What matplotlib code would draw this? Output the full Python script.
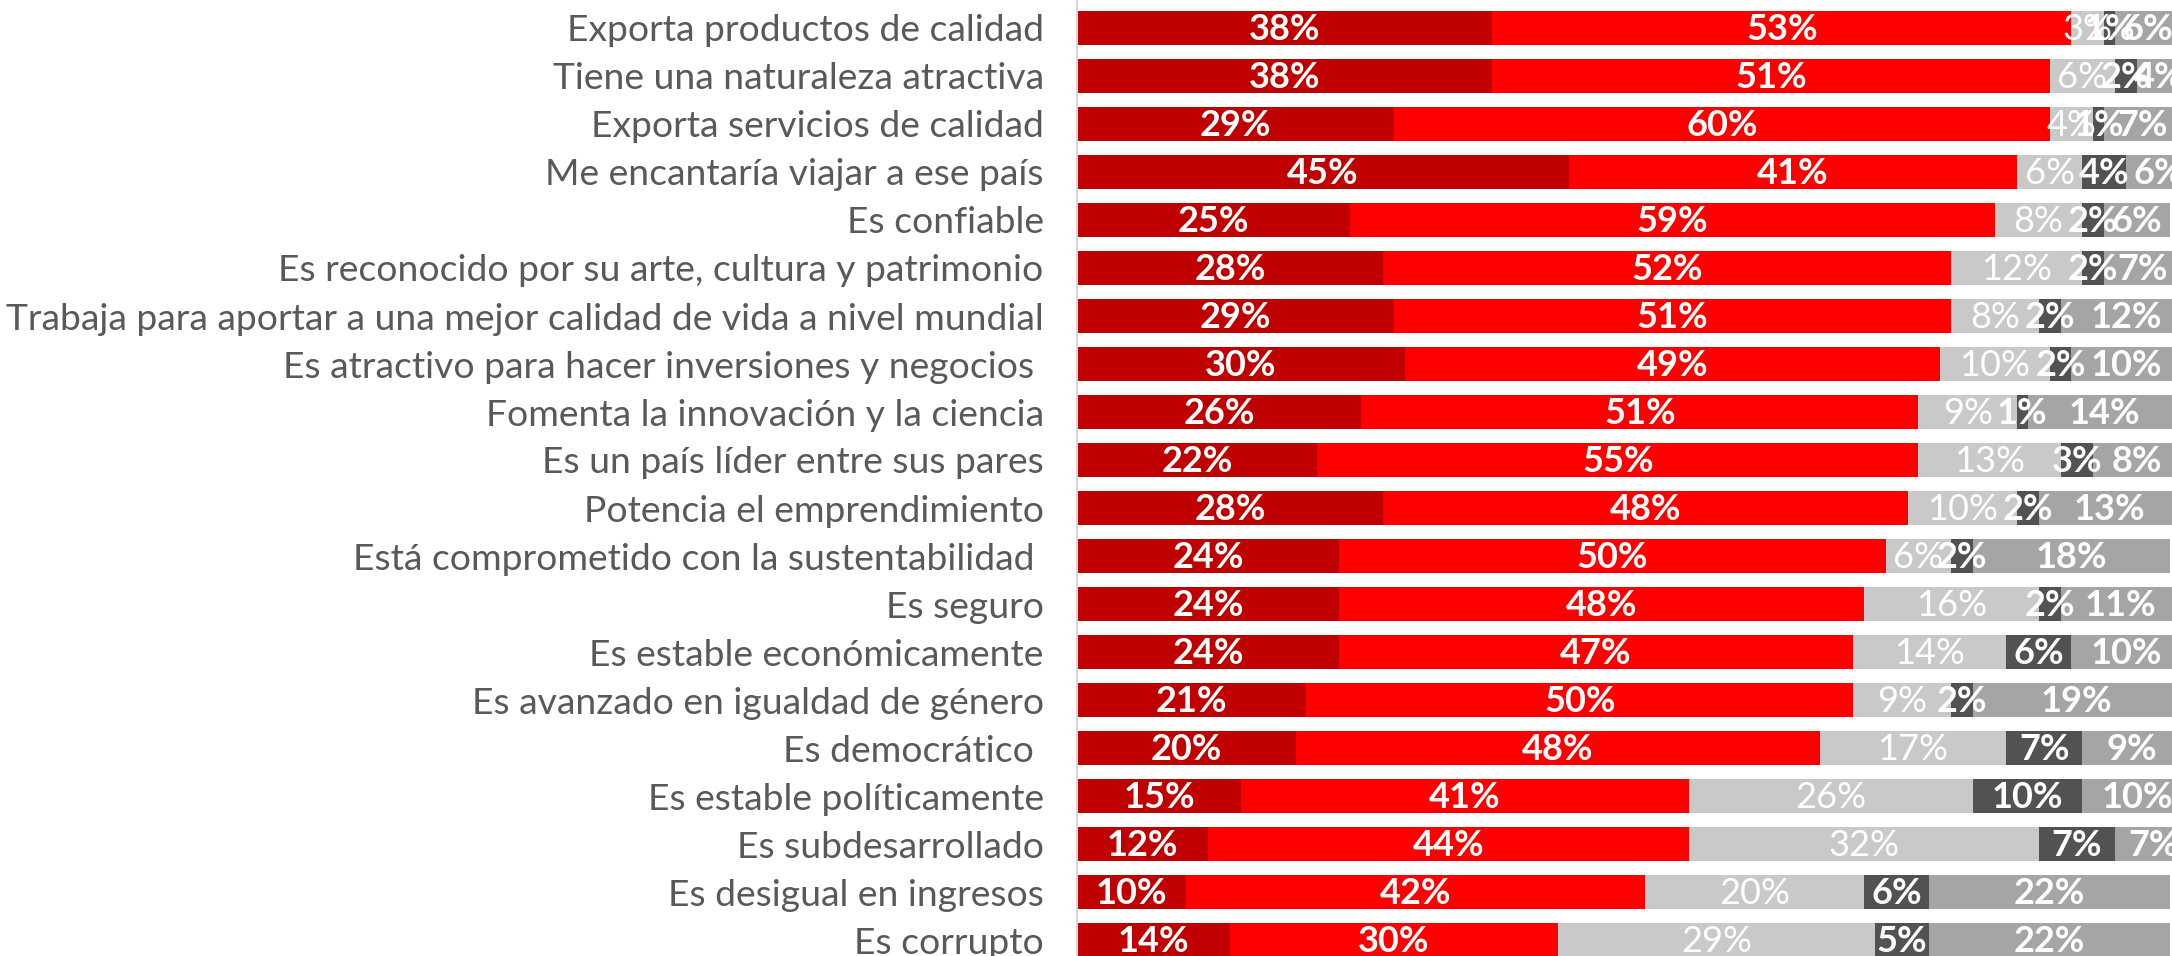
import numpy as np
import matplotlib.pyplot as plt

categorias = [
    "Exporta productos de calidad",
    "Tiene una naturaleza atractiva",
    "Exporta servicios de calidad",
    "Me encantaría viajar a ese país",
    "Es confiable",
    "Es reconocido por su arte, cultura y patrimonio",
    "Trabaja para aportar a una mejor calidad de vida a nivel mundial",
    "Es atractivo para hacer inversiones y negocios ",
    "Fomenta la innovación y la ciencia",
    "Es un país líder entre sus pares",
    "Potencia el emprendimiento",
    "Está comprometido con la sustentabilidad ",
    "Es seguro",
    "Es estable económicamente",
    "Es avanzado en igualdad de género",
    "Es democrático ",
    "Es estable políticamente",
    "Es subdesarrollado",
    "Es desigual en ingresos",
    "Es corrupto",
]

muy_de_acuerdo = [38, 38, 29, 45, 25, 28, 29, 30, 26, 22, 28, 24, 24, 24, 21, 20, 15, 12, 10, 14]
de_acuerdo     = [53, 51, 60, 41, 59, 52, 51, 49, 51, 55, 48, 50, 48, 47, 50, 48, 41, 44, 42, 30]
neutral        = [3, 6, 4, 6, 8, 12, 8, 10, 9, 13, 10, 6, 16, 14, 9, 17, 26, 32, 20, 29]
en_desacuerdo  = [1, 2, 1, 4, 2, 2, 2, 2, 1, 3, 2, 2, 2, 6, 2, 7, 10, 7, 6, 5]
no_sabe        = [6, 4, 7, 6, 6, 7, 12, 10, 14, 8, 13, 18, 11, 10, 19, 9, 10, 7, 22, 22]

series = [muy_de_acuerdo, de_acuerdo, neutral, en_desacuerdo, no_sabe]
colores = ["#C00000", "#FF0000", "#C9C9C9", "#525252", "#A5A5A5"]
pesos = ["bold", "bold", "normal", "bold", "bold"]

plt.rcParams['font.family'] = ['Lato', 'DejaVu Sans']

fig = plt.figure(figsize=(21.72, 9.56), dpi=100)
ax = fig.add_axes([1077 / 2172, 0, 1 - 1077 / 2172, 1])

y = np.arange(len(categorias))
izq = np.zeros(len(categorias))
for vals, col, peso in zip(series, colores, pesos):
    vals = np.array(vals, dtype=float)
    ax.barh(y, vals, left=izq, height=0.71, color=col, linewidth=0)
    for yi, l, v in zip(y, izq, vals):
        ax.text(l + v / 2, yi + 0.04, f"{int(v)}%", ha='center', va='center',
                color='white', fontsize=26, fontweight=peso, clip_on=True)
    izq += vals

ax.set_xlim(0, 100.2)
ax.set_ylim((956 - 28) / 48, -28 / 48)
ax.set_yticks(y)
ax.set_yticklabels(categorias, fontsize=26.8, color='#595959')
ax.tick_params(axis='y', length=0, pad=24)
ax.set_xticks([])
for s in ['top', 'right', 'bottom']:
    ax.spines[s].set_visible(False)
ax.spines['left'].set_color('#D9D9D9')
ax.spines['left'].set_linewidth(1.5)

fig.savefig("out.png", dpi=100)
